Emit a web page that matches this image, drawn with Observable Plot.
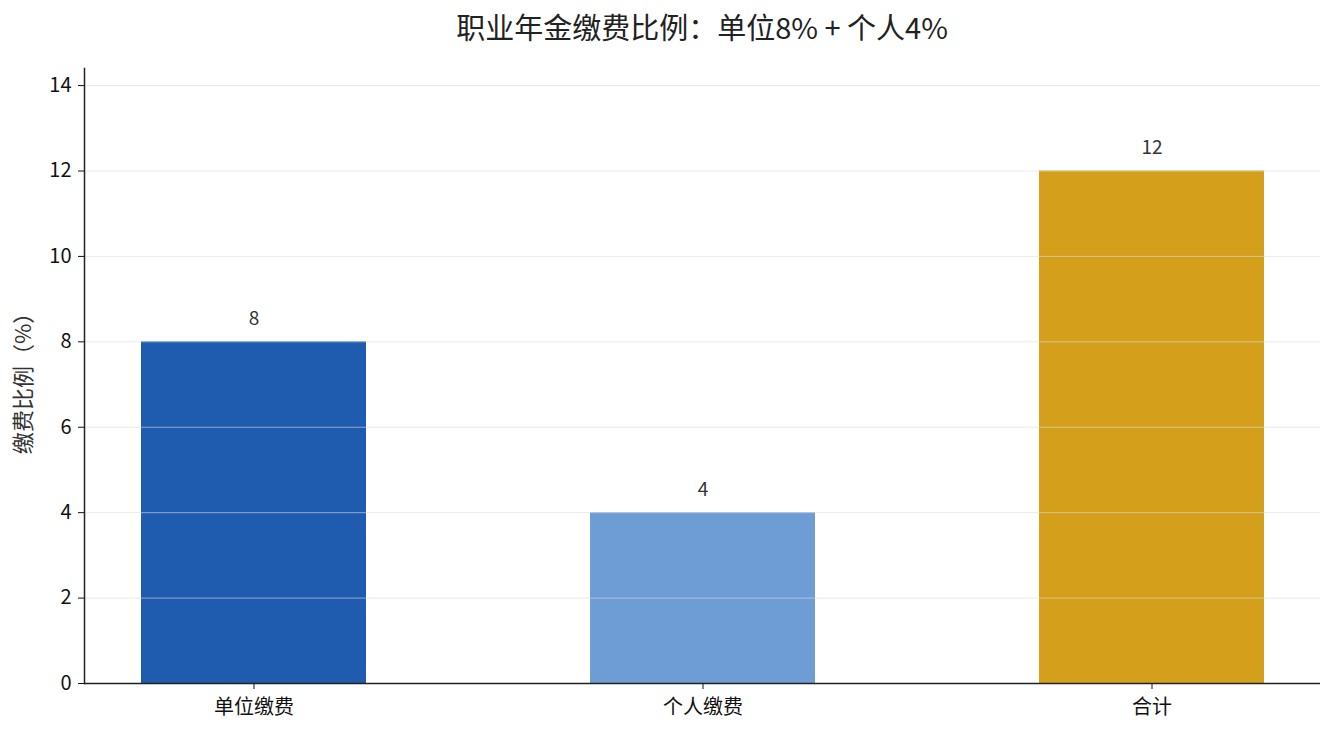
<!DOCTYPE html>
<html><head><meta charset="utf-8">
<script src="https://cdn.jsdelivr.net/npm/d3@7"></script>
<script src="https://cdn.jsdelivr.net/npm/@observablehq/plot@0.6"></script>
<style>
body{margin:0;background:#fff;font-family:"Noto Sans CJK SC","Noto Sans",sans-serif;}
#title{height:56px;line-height:52px;padding-left:69px;text-align:center;font-size:29px;color:#222;box-sizing:border-box;}
</style></head><body>
<div id="title">职业年金缴费比例：单位8% + 个人4%</div>
<div id="chart"></div>
<script>
const categories = ["单位缴费", "个人缴费", "合计"];
const values = [8, 4, 12];
const colors = ["#1f5baf", "#6e9dd5", "#d4a01c"];
const yTicks = [0, 2, 4, 6, 8, 10, 12, 14];
const yLabel = "缴费比例（%）";

const data = categories.map((c, i) => ({cat: c, v: values[i], color: colors[i]}));

const plot = Plot.plot({
  width: 1335,
  height: 679,
  marginTop: 12,
  marginBottom: 52,
  marginLeft: 84,
  marginRight: 15,
  style: {fontFamily: '"Noto Sans CJK SC","Noto Sans",sans-serif', fontSize: "20px", color: "#111", background: "#fff"},
  x: {domain: categories, paddingInner: 0.5, paddingOuter: 0.125, align: 0.5, label: null},
  y: {domain: [0, 14.4], label: null},
  marks: [
    Plot.barY(data, {x: "cat", y: "v", fill: "color"}),
    Plot.ruleY(yTicks.slice(1), {stroke: "#dcdcdc", strokeOpacity: 0.6, strokeWidth: 1}),
    Plot.text(data, {x: "cat", y: "v", text: d => String(d.v), dy: -23, fontSize: 19, fill: "#333"}),
    Plot.axisY({ticks: yTicks, tickSize: 6, tickPadding: 7, fontSize: 20, fill: "#111", label: null}),
    Plot.axisX({tickSize: 6, tickPadding: 10, fontSize: 20, fill: "#111", label: null}),
    Plot.ruleY([0], {stroke: "#222", strokeWidth: 1.5}),
    Plot.frame({anchor: "left", stroke: "#222", strokeWidth: 1.5}),
    Plot.text([yLabel], {frameAnchor: "left", dx: -61, dy: 2, rotate: -90, textAnchor: "middle", fontSize: 22, fill: "#333"})
  ]
});
document.getElementById("chart").appendChild(plot);
</script>
</body></html>
